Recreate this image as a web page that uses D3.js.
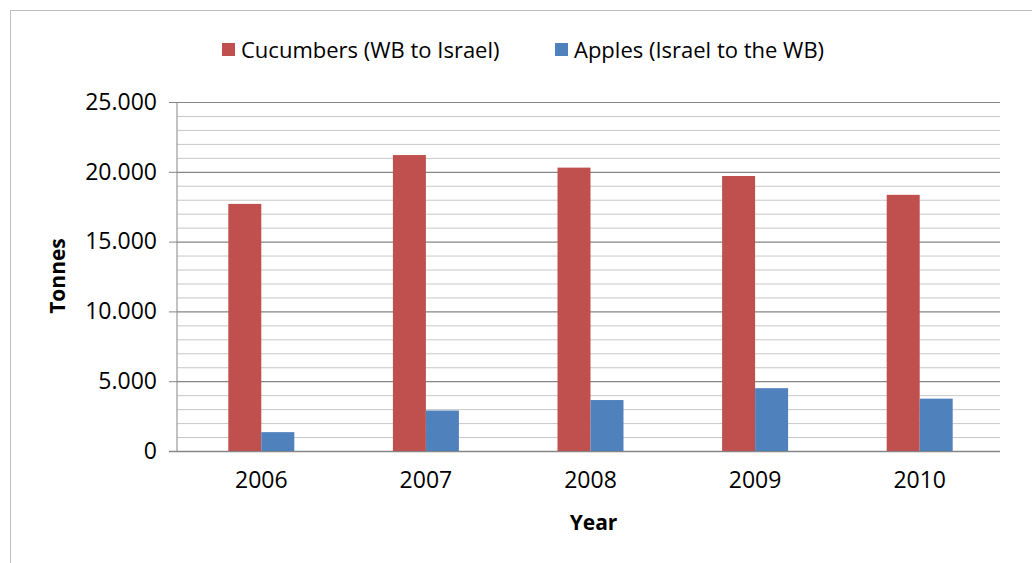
<!DOCTYPE html>
<html><head><meta charset="utf-8">
<script src="https://cdn.jsdelivr.net/npm/d3@7"></script>
<style>body{margin:0;background:#fff}text{font-family:"Open Sans",sans-serif}</style>
</head><body>
<svg id="chart" width="1032" height="563"></svg>
<script>
// chart data
const years = ["2006", "2007", "2008", "2009", "2010"];
const cucumbers = [17700, 21200, 20300, 19700, 18350];
const apples = [1350, 2900, 3650, 4500, 3750];
const seriesNames = ["Cucumbers (WB to Israel)", "Apples (Israel to the WB)"];
const colors = ["#c0504d", "#4f81bd"];
const yTicks = [0, 5000, 10000, 15000, 20000, 25000];

const svg = d3.select("#chart");
const m = {left: 177, right: 1000, top: 102, bottom: 451};

// outer frame
svg.append("rect").attr("x", 10.5).attr("y", 10.5).attr("width", 1030).attr("height", 560)
    .attr("fill", "none").attr("stroke", "#bfbfbf");

const x = d3.scaleBand().domain(years).range([m.left, m.right]);
const y = d3.scaleLinear().domain([0, 25000]).range([m.bottom, m.top]);

// minor grid every 1000
svg.append("g").selectAll("line").data(d3.range(1000, 25001, 1000)).join("line")
    .attr("x1", m.left).attr("x2", m.right)
    .attr("y1", d => y(d) + 0.5).attr("y2", d => y(d) + 0.5)
    .attr("stroke", d => d % 5000 === 0 ? "#868686" : "#c8c8c8")
    .attr("stroke-width", d => d % 5000 === 0 ? 1.2 : 1);

const yAxis = d3.axisLeft(y).tickValues(yTicks).tickSize(8).tickPadding(12)
    .tickFormat(v => v === 0 ? "0" : (v / 1000) + ".000");
const gy = svg.append("g").attr("transform", `translate(${m.left},0)`).call(yAxis);
gy.select(".domain").attr("stroke", "#868686").attr("d", `M0,${m.top}V${m.bottom}`);
gy.selectAll(".tick line").attr("stroke", "#868686");
gy.selectAll(".tick text").attr("font-size", 23).attr("fill", "#000");

// x axis baseline and labels
svg.append("line").attr("x1", m.left - 8).attr("x2", m.right)
    .attr("y1", m.bottom + 0.5).attr("y2", m.bottom + 0.5).attr("stroke", "#868686").attr("stroke-width", 1.5);
svg.append("g").selectAll("text").data(years).join("text")
    .attr("x", d => x(d) + x.bandwidth() / 2 + 2).attr("y", m.bottom + 16)
    .attr("dy", "0.9em")
    .attr("text-anchor", "middle").attr("font-size", 23).text(d => d);

const barW = 33;
const series = [cucumbers, apples];
series.forEach((vals, i) => {
    svg.append("g").selectAll("rect").data(vals).join("rect")
        .attr("x", (d, j) => x(years[j]) + x.bandwidth() / 2 + 2 - barW + i * barW)
        .attr("y", d => y(d)).attr("width", barW)
        .attr("height", d => m.bottom - y(d)).attr("fill", colors[i]);
});

// axis titles
svg.append("text").attr("x", (m.left + m.right) / 2 + 5).attr("y", 530)
    .attr("text-anchor", "middle").attr("font-size", 21).attr("font-weight", "bold").text("Year");
svg.append("text").attr("transform", "translate(65,276) rotate(-90)")
    .attr("text-anchor", "middle").attr("font-size", 21).attr("font-weight", "bold").text("Tonnes");

// legend
const lx = [222, 555];
seriesNames.forEach((n, i) => {
    svg.append("rect").attr("x", lx[i]).attr("y", 43).attr("width", 13).attr("height", 13).attr("fill", colors[i]);
    svg.append("text").attr("x", lx[i] + 19).attr("y", 58).attr("font-size", 22).text(n);
});
</script>
</body></html>
